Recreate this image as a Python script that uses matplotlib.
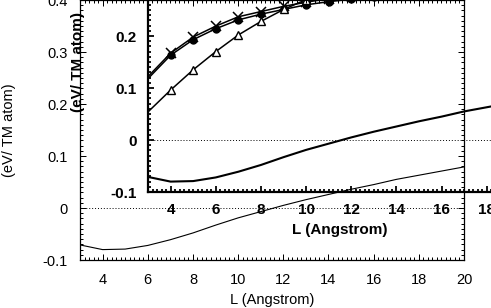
import matplotlib
matplotlib.use("Agg")
import matplotlib.pyplot as plt
from matplotlib.ticker import MultipleLocator

plt.rcParams["font.family"] = ["Liberation Sans", "DejaVu Sans"]

# L (Angstrom)
L = [3, 4, 5, 6, 7, 8, 9, 10, 11, 12, 13, 14, 15, 16, 17, 18, 19, 20]
# energy curve (eV / TM atom), same curve in both panels
energy = [-0.071, -0.080, -0.079, -0.072, -0.061, -0.048, -0.033, -0.019,
          -0.007, 0.005, 0.016, 0.026, 0.036, 0.045, 0.055, 0.063, 0.071, 0.079]

# marker series of the second panel
L_pts = [3, 4, 5, 6, 7, 8, 9, 10, 11, 12, 13, 14]
cross = [0.122, 0.167, 0.198, 0.219, 0.237, 0.247, 0.257, 0.265, 0.272, 0.277, 0.282, 0.286]
circle = [0.118, 0.163, 0.193, 0.214, 0.231, 0.242, 0.251, 0.260, 0.266, 0.271, 0.275, 0.279]
triangle = [0.054, 0.096, 0.135, 0.170, 0.202, 0.228, 0.251, 0.270, 0.287, 0.300, 0.311, 0.320]

ylabel = "(eV/ TM atom)"
xlabel = "L (Angstrom)"

fig = plt.figure(figsize=(4.91, 3.08), dpi=100)

W, H = 491.0, 308.0
# back panel (bold), shifted up-right and running off the figure
ax2 = fig.add_axes([148 / W, (H - 192) / H, 384 / W, 260 / H], zorder=1)
# front panel (thin), transparent so it sits over the other one
ax1 = fig.add_axes([80 / W, (H - 260) / H, 384 / W, 260 / H], zorder=2)
ax1.patch.set_alpha(0)


def style(ax, lw, size, weight, pad):
    ax.set_xlim(3, 20)
    ax.set_ylim(-0.1, 0.4)
    ax.xaxis.set_major_locator(MultipleLocator(2))
    ax.xaxis.set_minor_locator(MultipleLocator(0.2))
    ax.yaxis.set_major_locator(MultipleLocator(0.1))
    ax.yaxis.set_minor_locator(MultipleLocator(0.01))
    ax.tick_params(which="both", direction="in", top=True, right=True,
                   width=lw * 0.8, labelsize=size, pad=pad)
    ax.tick_params(which="major", length=4.5)
    ax.tick_params(which="minor", length=2)
    for s in ax.spines.values():
        s.set_linewidth(lw)
    ax.yaxis.set_major_formatter(plt.FuncFormatter(
        lambda v, p: "0" if abs(v) < 1e-9 else "%g" % round(v, 2)))
    ax.axhline(0, color="black", lw=0.7, ls=(0, (1, 2)))


style(ax2, 1.6, 11, "bold", 8)
ax2.plot(L, energy, color="black", lw=1.5)
ax2.plot(L_pts, cross, color="black", lw=1.1, marker="x", ms=6.5, mew=1.1,
         markevery=slice(1, None))
ax2.plot(L_pts, circle, color="black", lw=1.1, marker="o", ms=5, mfc="black",
         markevery=slice(1, None))
ax2.plot(L_pts, triangle, color="black", lw=1.1, marker="^", ms=6, mfc="white",
         mew=1.0, markevery=slice(1, None))
ax2.set_xlabel(xlabel, fontsize=11, fontweight="bold", labelpad=4)
ax2.set_ylabel(ylabel, fontsize=11, fontweight="bold")
ax2.yaxis.set_label_coords(-0.164, 0.5)
for t in ax2.get_xticklabels() + ax2.get_yticklabels():
    t.set_fontweight("bold")

style(ax1, 0.9, 10.5, "normal", 9)
ax1.plot(L, energy, color="black", lw=0.8)
ax1.set_xlabel(xlabel, fontsize=10.5, labelpad=5)
ax1.set_ylabel(ylabel, fontsize=10.5)
ax1.yaxis.set_label_coords(-0.167, 0.5)

fig.savefig("out.png", dpi=100)
